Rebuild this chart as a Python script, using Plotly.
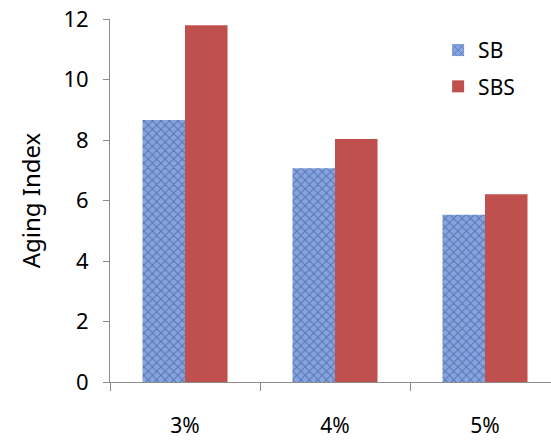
import plotly.graph_objects as go

categories = ["3%", "4%", "5%"]
sb_values = [8.66, 7.07, 5.53]
sbs_values = [11.79, 8.03, 6.21]
y_ticks = [0, 2, 4, 6, 8, 10, 12]

font_family = "Noto Sans, Open Sans, sans-serif"

fig = go.Figure()
fig.add_trace(go.Bar(
    name="SB", x=categories, y=sb_values,
    marker=dict(
        color="#7f9ddb",
        line=dict(width=0),
        pattern=dict(shape="x", fgcolor="#29467f", bgcolor="#86a4e0", size=6, solidity=0.3),
    ),
    legendgroup="a",
))
fig.add_trace(go.Bar(
    name="SBS", x=categories, y=sbs_values,
    marker=dict(color="#c0504d", line=dict(width=0)),
    legendgroup="b",
))

fig.update_layout(
    width=551, height=442,
    margin=dict(l=110, r=0, t=19, b=60, autoexpand=False),
    paper_bgcolor="white", plot_bgcolor="white",
    barmode="group", bargap=0.433, bargroupgap=0,
    font=dict(family=font_family, size=21, color="black"),
    showlegend=True,
    legend=dict(
        x=0.744, y=0.97, xanchor="left", yanchor="top",
        bgcolor="rgba(0,0,0,0)", tracegroupgap=6,
        font=dict(size=21), itemwidth=30,
    ),
    xaxis=dict(
        range=[-0.5, 2.44], automargin=False,
        showline=True, linecolor="#8c8c8c", linewidth=1,
        ticks="outside", tickson="boundaries", ticklen=8, tickcolor="#8c8c8c",
        ticklabelstandoff=25, showgrid=False, zeroline=False,
        tickfont=dict(size=21),
    ),
    yaxis=dict(
        range=[0, 12], tickvals=y_ticks, automargin=False,
        showline=True, linecolor="#8c8c8c", linewidth=1,
        ticks="outside", ticklen=6, tickcolor="#8c8c8c",
        ticklabelstandoff=10,
        showgrid=False, zeroline=False,
        tickfont=dict(size=22),
        title=dict(text="Aging Index", standoff=16, font=dict(size=24)),
    ),
)

fig.write_html(
    "out.html",
    config={"displayModeBar": False},
    post_script="document.body.style.margin='0px'; document.body.style.overflow='hidden';",
)
